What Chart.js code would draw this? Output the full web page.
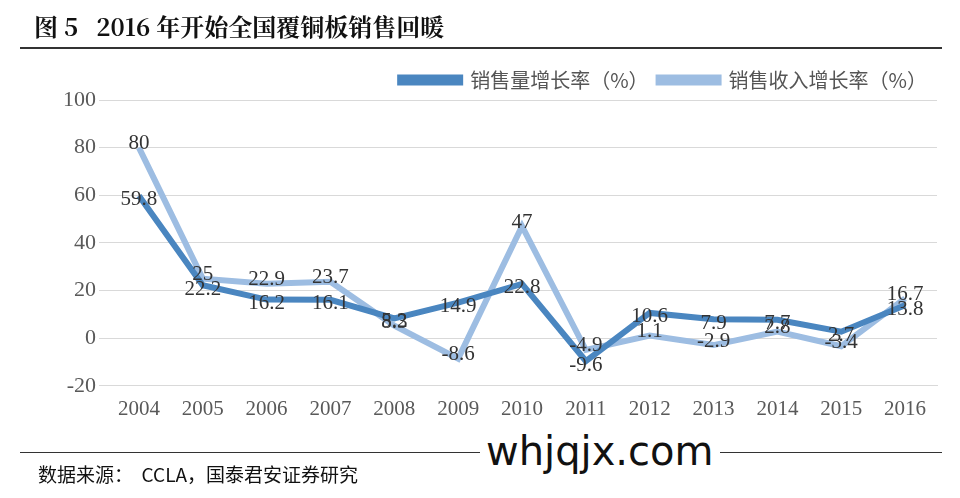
<!DOCTYPE html><html><head><meta charset="utf-8">
<script src="https://cdn.jsdelivr.net/npm/chart.js@4"></script>
<style>body{margin:0;background:#fff;width:960px;height:498px;position:relative;overflow:hidden;font-family:"Noto Sans CJK SC"}
#t{position:absolute;left:34px;top:8px;font-family:"Noto Serif CJK SC","Noto Sans CJK SC";font-weight:bold;font-size:24px;color:#111}
#l1{position:absolute;left:20px;top:47px;width:922px;height:2px;background:#333}
#l2{position:absolute;left:20px;top:452px;width:922px;height:1px;background:#333}
#f{position:absolute;left:38px;top:460px;font-size:19px;color:#111}
#w{position:absolute;left:480px;top:428px;font-family:"DejaVu Sans";font-size:40px;color:#111;background:#fff;padding:0 6px}
canvas{position:absolute;left:0;top:0}</style></head><body>
<canvas id="c" width="960" height="498"></canvas>
<div id="t">图 5&nbsp;&nbsp; 2016 年开始全国覆铜板销售回暖</div><div id="l1"></div><div id="l2"></div>
<div id="f">数据来源：&nbsp; CCLA，国泰君安证券研究</div><div id="w">whjqjx.com</div>
<script>
const years=["2004","2005","2006","2007","2008","2009","2010","2011","2012","2013","2014","2015","2016"];
const volume=[59.8,22.2,16.2,16.1,8.3,14.9,22.8,-9.6,10.6,7.9,7.7,2.7,13.8];
const revenue=[80,25,22.9,23.7,5.2,-8.6,47,-4.9,1.1,-2.9,2.8,-3.4,16.7];
const F='"Liberation Serif"';
const labels={id:'lb',afterDatasetsDraw(ch){const x=ch.ctx;x.save();x.font='21px '+F;x.fillStyle='#333';x.textAlign='center';x.textBaseline='middle';
ch.data.datasets.forEach((d,i)=>{ch.getDatasetMeta(i).data.forEach((p,j)=>{x.fillText(String(d.data[j]),p.x,p.y+(i==0?4:-4));});});x.restore();}};
new Chart(document.getElementById('c'),{type:'line',data:{labels:years,datasets:[
{label:'销售量增长率（%）',data:volume,borderColor:'#4a86c0',backgroundColor:'#4a86c0',borderWidth:6,pointRadius:0,tension:0},
{label:'销售收入增长率（%）',data:revenue,borderColor:'#9dbde2',backgroundColor:'#9dbde2',borderWidth:6,pointRadius:0,tension:0}]},
options:{responsive:false,animation:false,layout:{padding:{top:60,bottom:73,left:60,right:23}},
plugins:{legend:{position:'top',align:'end',labels:{font:{family:'"Noto Sans CJK SC"',size:20},color:'#555',boxWidth:60,boxHeight:5,padding:10}},tooltip:{enabled:false}},
scales:{x:{offset:true,grid:{display:false},border:{color:'#d9d9d9'},ticks:{font:{family:F,size:21},color:'#595959'}},
y:{min:-20,max:100,ticks:{stepSize:20,font:{family:F,size:22},color:'#595959'},grid:{color:'#d9d9d9'},border:{display:false}}}},plugins:[labels]});
</script></body></html>
